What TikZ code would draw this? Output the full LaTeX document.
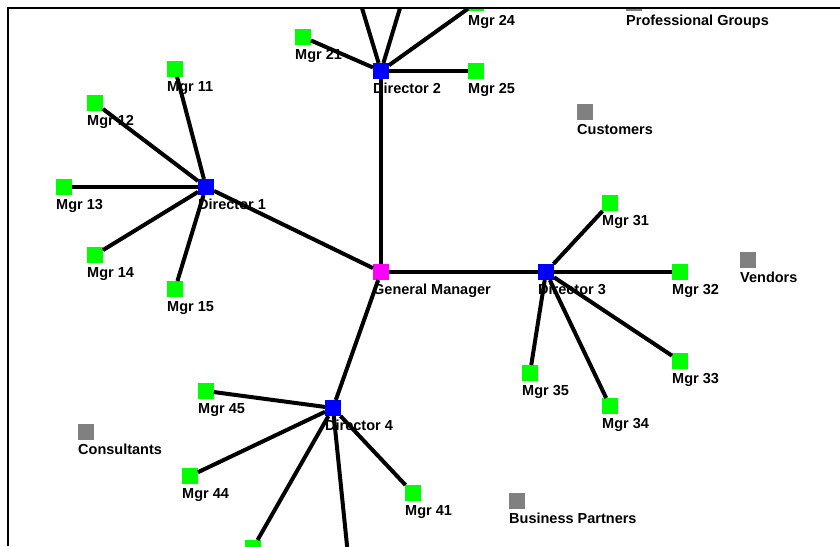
\documentclass[tikz,border=0pt]{standalone}
\usepackage{fontspec}
\setmainfont{Liberation Sans}
\definecolor{mgrgreen}{RGB}{0,255,0}
\definecolor{dirblue}{RGB}{0,0,255}
\definecolor{gmpink}{RGB}{255,0,255}
\definecolor{extgray}{RGB}{128,128,128}

\begin{document}
\begin{tikzpicture}[x=1pt, y=-1pt,
    box/.style={rectangle, minimum size=16pt, inner sep=0pt, outer sep=0pt},
    mgr/.style={box, fill=mgrgreen},
    dir/.style={box, fill=dirblue},
    gmbox/.style={box, fill=gmpink},
    ext/.style={box, fill=extgray},
    tag/.style={anchor=base west, inner sep=0pt, yshift=-14.5pt,
      font=\fontsize{14.5}{17}\selectfont\bfseries},
    every label/.style={tag},
    label distance=0pt,
    link/.style={line width=4pt, black}]
  \useasboundingbox (0,0) rectangle (840,546);
  \begin{scope}
    \clip (9,9) rectangle (840,546);
    % general manager and directors
    \node[gmbox, label={south west:General Manager}] (gm) at (381,272) {};
    \node[dir, label={south west:Director 1}] (d1) at (206,187) {};
    \node[dir, label={south west:Director 2}] (d2) at (381,71) {};
    \node[dir, label={south west:Director 3}] (d3) at (546,272) {};
    \node[dir, label={south west:Director 4}] (d4) at (333,408) {};
    % managers
    \node[mgr, label={south west:Mgr 11}] (m11) at (175,69) {};
    \node[mgr, label={south west:Mgr 12}] (m12) at (95,103) {};
    \node[mgr, label={south west:Mgr 13}] (m13) at (64,187) {};
    \node[mgr, label={south west:Mgr 14}] (m14) at (95,255) {};
    \node[mgr, label={south west:Mgr 15}] (m15) at (175,289) {};
    \node[mgr, label={south west:Mgr 21}] (m21) at (303,37) {};
    \node[mgr] (m22) at (352,-25) {};
    \node[mgr] (m23) at (410,-25) {};
    \node[mgr, label={south west:Mgr 24}] (m24) at (476,3) {};
    \node[mgr, label={south west:Mgr 25}] (m25) at (476,71) {};
    \node[mgr, label={south west:Mgr 31}] (m31) at (610,203) {};
    \node[mgr, label={south west:Mgr 32}] (m32) at (680,272) {};
    \node[mgr, label={south west:Mgr 33}] (m33) at (680,361) {};
    \node[mgr, label={south west:Mgr 34}] (m34) at (610,406) {};
    \node[mgr, label={south west:Mgr 35}] (m35) at (530,373) {};
    \node[mgr, label={south west:Mgr 41}] (m41) at (413,493) {};
    \node[mgr] (m42) at (350,575) {};
    \node[mgr] (m43) at (253,548) {};
    \node[mgr, label={south west:Mgr 44}] (m44) at (190,476) {};
    \node[mgr, label={south west:Mgr 45}] (m45) at (206,391) {};
    % outside groups
    \node[ext, label={south west:Professional Groups}] (prof) at (634,3) {};
    \node[ext, label={south west:Customers}] (cust) at (585,112) {};
    \node[ext, label={south west:Vendors}] (vend) at (748,260) {};
    \node[ext, label={south west:Consultants}] (cons) at (86,432) {};
    \node[ext, label={south west:Business Partners}] (bizp) at (517,501) {};
    % links
    \draw[link] (gm) -- (d1);
    \draw[link] (gm) -- (d2);
    \draw[link] (gm) -- (d3);
    \draw[link] (gm) -- (d4);
    \draw[link] (d1) -- (m11);
    \draw[link] (d1) -- (m12);
    \draw[link] (d1) -- (m13);
    \draw[link] (d1) -- (m14);
    \draw[link] (d1) -- (m15);
    \draw[link] (d2) -- (m21);
    \draw[link] (d2) -- (m22);
    \draw[link] (d2) -- (m23);
    \draw[link] (d2) -- (m24);
    \draw[link] (d2) -- (m25);
    \draw[link] (d3) -- (m31);
    \draw[link] (d3) -- (m32);
    \draw[link] (d3) -- (m33);
    \draw[link] (d3) -- (m34);
    \draw[link] (d3) -- (m35);
    \draw[link] (d4) -- (m41);
    \draw[link] (d4) -- (m42);
    \draw[link] (d4) -- (m43);
    \draw[link] (d4) -- (m44);
    \draw[link] (d4) -- (m45);
  \end{scope}
  % frame
  \draw[line width=2.5pt] (8,546) -- (8,8) -- (840,8);
\end{tikzpicture}
\end{document}
